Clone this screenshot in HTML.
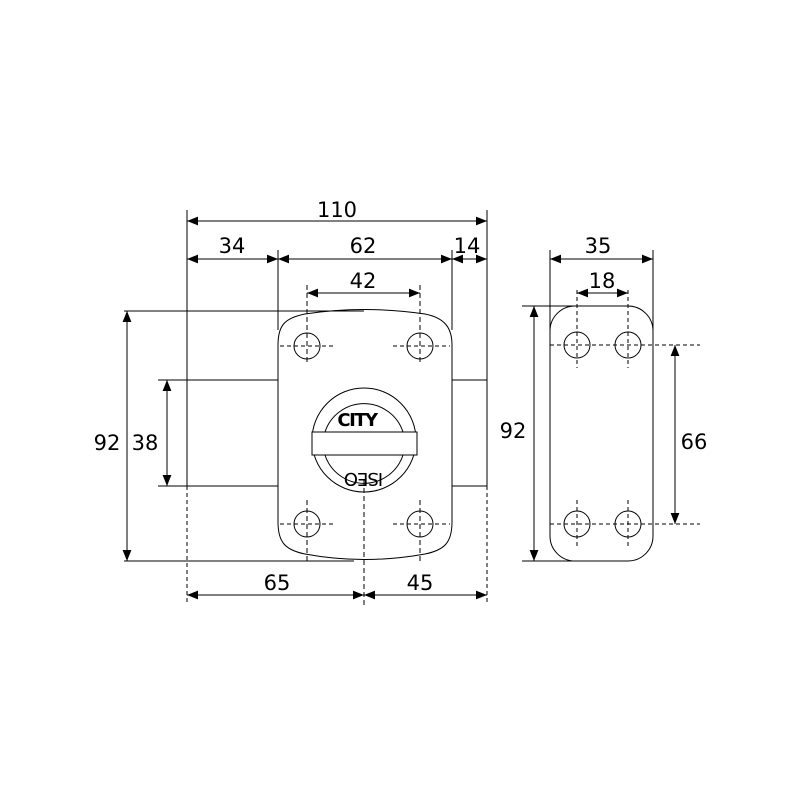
<!DOCTYPE html>
<html><head><meta charset="utf-8"><style>body{margin:0;background:#fff}svg{display:block}</style></head><body>
<svg width="800" height="800" viewBox="0 0 800 800" xmlns="http://www.w3.org/2000/svg">
<defs>
<marker id="a" viewBox="0 0 10 10" refX="10" refY="5" markerWidth="11" markerHeight="11" orient="auto-start-reverse" markerUnits="userSpaceOnUse"><path d="M0,1 L10,5 L0,9 Z" fill="#000"/></marker>
</defs>
<g stroke="#000" stroke-width="1" fill="none">
<line x1="187" y1="210" x2="187" y2="486"/>
<line x1="187" y1="486" x2="187" y2="602" stroke-dasharray="4,3"/>
<line x1="487" y1="210" x2="487" y2="486"/>
<line x1="487" y1="486" x2="487" y2="602" stroke-dasharray="4,3"/>
<line x1="278" y1="250" x2="278" y2="330"/>
<line x1="452" y1="250" x2="452" y2="330"/>
<line x1="364" y1="480" x2="364" y2="605" stroke-dasharray="5,3"/>
<line x1="307" y1="285" x2="307" y2="365" stroke-dasharray="5,3"/>
<line x1="420" y1="285" x2="420" y2="365" stroke-dasharray="5,3"/>
<line x1="307" y1="500" x2="307" y2="562" stroke-dasharray="5,3"/>
<line x1="420" y1="500" x2="420" y2="562" stroke-dasharray="5,3"/>
<line x1="124" y1="311" x2="364" y2="311"/>
<line x1="124" y1="561" x2="354" y2="561"/>
<line x1="158" y1="380" x2="187" y2="380"/>
<line x1="158" y1="486" x2="187" y2="486"/>
<line x1="187" y1="380" x2="278" y2="380"/>
<line x1="187" y1="486" x2="278" y2="486"/>
<line x1="452" y1="380" x2="487" y2="380"/>
<line x1="452" y1="486" x2="487" y2="486"/>
<path d="M278,345 C278,325 285,318 305,314 Q364,305 425,314 C445,318 452,328 452,345 L452,522 C452,542 445,550 425,554 Q364,565 305,554 C285,550 278,542 278,522 Z"/>
<circle cx="307" cy="346" r="13"/><circle cx="420" cy="346" r="13"/>
<circle cx="307" cy="524" r="13"/><circle cx="420" cy="524" r="13"/>
<g stroke-dasharray="4,3">
<line x1="280" y1="346" x2="333" y2="346"/><line x1="393" y1="346" x2="450" y2="346"/>
<line x1="280" y1="524" x2="333" y2="524"/><line x1="393" y1="524" x2="450" y2="524"/>
</g>
<circle cx="364" cy="440" r="52"/>
<path d="M325,432 A41,41 0 0 1 403,432"/>
<path d="M325,455 A41,41 0 0 0 403,455"/>
<rect x="312" y="432" width="105" height="23" fill="#fff"/>
<line x1="187" y1="221" x2="487" y2="221" marker-start="url(#a)" marker-end="url(#a)"/>
<line x1="187" y1="259" x2="278" y2="259" marker-start="url(#a)" marker-end="url(#a)"/>
<line x1="278" y1="259" x2="452" y2="259" marker-start="url(#a)" marker-end="url(#a)"/>
<line x1="452" y1="259" x2="487" y2="259" marker-start="url(#a)" marker-end="url(#a)"/>
<line x1="307" y1="293" x2="420" y2="293" marker-start="url(#a)" marker-end="url(#a)"/>
<line x1="127" y1="311" x2="127" y2="561" marker-start="url(#a)" marker-end="url(#a)"/>
<line x1="167" y1="380" x2="167" y2="486" marker-start="url(#a)" marker-end="url(#a)"/>
<line x1="187" y1="595" x2="364" y2="595" marker-start="url(#a)" marker-end="url(#a)"/>
<line x1="364" y1="595" x2="487" y2="595" marker-start="url(#a)" marker-end="url(#a)"/>
<line x1="550" y1="250" x2="550" y2="330"/>
<line x1="653" y1="250" x2="653" y2="330"/>
<line x1="522" y1="306" x2="577" y2="306"/>
<line x1="522" y1="561" x2="577" y2="561"/>
<rect x="550" y="306" width="103" height="255" rx="25" ry="25"/>
<circle cx="577" cy="345" r="13"/><circle cx="628" cy="345" r="13"/>
<circle cx="577" cy="524" r="13"/><circle cx="628" cy="524" r="13"/>
<g stroke-dasharray="4,3">
<line x1="577" y1="290" x2="577" y2="368"/><line x1="628" y1="290" x2="628" y2="368"/>
<line x1="577" y1="500" x2="577" y2="548"/><line x1="628" y1="500" x2="628" y2="548"/>
<line x1="550" y1="345" x2="700" y2="345"/><line x1="550" y1="524" x2="700" y2="524"/>
</g>
<line x1="550" y1="259" x2="653" y2="259" marker-start="url(#a)" marker-end="url(#a)"/>
<line x1="577" y1="293" x2="628" y2="293" marker-start="url(#a)" marker-end="url(#a)"/>
<line x1="534" y1="306" x2="534" y2="561" marker-start="url(#a)" marker-end="url(#a)"/>
<line x1="675" y1="345" x2="675" y2="524" marker-start="url(#a)" marker-end="url(#a)"/>
</g>
<g font-family="'DejaVu Sans','Liberation Sans',sans-serif" font-size="21" fill="#000" text-anchor="middle">
<text x="337" y="217">110</text>
<text x="232" y="253">34</text>
<text x="363" y="253">62</text>
<text x="467" y="253">14</text>
<text x="363" y="288">42</text>
<text x="107" y="450">92</text>
<text x="145" y="450">38</text>
<text x="277" y="590">65</text>
<text x="420" y="590">45</text>
<text x="598" y="253">35</text>
<text x="602" y="288">18</text>
<text x="513" y="438">92</text>
<text x="694" y="449">66</text>
<text x="357" y="426" font-size="18" font-weight="bold" letter-spacing="-1.5">CITY</text>
<text x="364" y="461" font-size="18" transform="rotate(180 364 467)" letter-spacing="-1">ISEO</text>
</g>
</svg>
</body></html>
